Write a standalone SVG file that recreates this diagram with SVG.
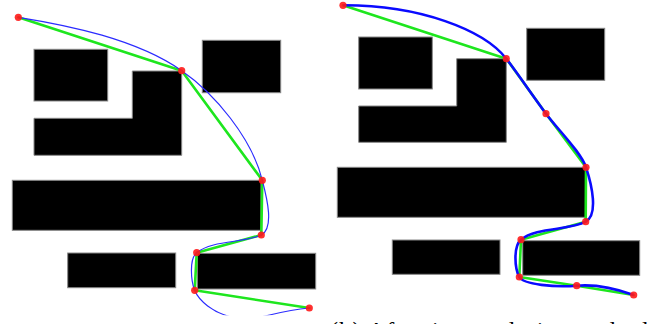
<svg xmlns="http://www.w3.org/2000/svg" width="654" height="324" viewBox="0 0 654 324">
<style>
.obs{fill:#000;stroke:#888;stroke-width:1}
.poly{fill:none;stroke:#1ee61e;stroke-width:2.6;stroke-linejoin:round;stroke-linecap:round}
.bl1{fill:none;stroke:#2b2bff;stroke-width:1.2}
.bl2{fill:none;stroke:#0a0aff;stroke-width:2.6}
.wp{fill:#ff1a1a;fill-opacity:0.9}
.cap{font-family:"Liberation Serif","Times New Roman",serif;font-size:24px;fill:#000}
</style>
<defs>
<clipPath id="clipL"><rect x="0" y="0" width="327" height="315.3"/></clipPath>
</defs>
<g id="panel-a">
<g id="obstacles-a">
<rect id="a-obs1" class="obs" x="34" y="49.3" width="73.7" height="51.7"/>
<path id="a-obs2" class="obs" d="M132.3,71 H181.7 V155.3 H34 V118.3 H132.3 Z"/>
<rect id="a-obs3" class="obs" x="202.3" y="40.3" width="78.4" height="52.4"/>
<rect id="a-obs4" class="obs" x="12.3" y="180.3" width="248.7" height="50"/>
<rect id="a-obs5" class="obs" x="67.7" y="253" width="108" height="34.7"/>
<rect id="a-obs6" class="obs" x="197.3" y="253.3" width="118.4" height="35.7"/>
</g>
<g id="connectors-a">
<polyline class="poly" points="18.3,17.3 181.7,70.7 262.3,180.3 261.3,235 196.7,252.7 194.7,290.3 309.3,308"/>
<path class="bl1" clip-path="url(#clipL)" d="M18.3,17.3 C68.3,25.3 136.7,39.2 181.7,70.7 C214,93 252,138 262.3,180.3 C267.5,200 274,228 261.3,235 C245,243 212,240 196.7,252.7 C189,259 191,281 194.7,290.3 C198.5,300 212,313 235,318 C255,322.3 270,312 309.3,308"/>
</g>
<g id="waypoints-a">
<circle class="wp" cx="18.3" cy="17.3" r="3.6"/>
<circle class="wp" cx="181.7" cy="70.7" r="3.6"/>
<circle class="wp" cx="262.3" cy="180.3" r="3.6"/>
<circle class="wp" cx="261.3" cy="235" r="3.6"/>
<circle class="wp" cx="196.7" cy="252.7" r="3.6"/>
<circle class="wp" cx="194.7" cy="290.3" r="3.6"/>
<circle class="wp" cx="309.3" cy="308" r="3.6"/>
</g>
</g>
<g id="panel-b">
<g id="obstacles-b">
<rect id="b-obs1" class="obs" x="358.7" y="37" width="73.6" height="52"/>
<path id="b-obs2" class="obs" d="M456.7,58.7 H506.3 V142.3 H358.7 V106 H456.7 Z"/>
<rect id="b-obs3" class="obs" x="526.7" y="28.3" width="78" height="52"/>
<rect id="b-obs4" class="obs" x="337.3" y="167.3" width="248.4" height="50"/>
<rect id="b-obs5" class="obs" x="392.3" y="240" width="107.7" height="34.3"/>
<rect id="b-obs6" class="obs" x="522.7" y="240.7" width="117" height="34.6"/>
</g>
<g id="connectors-b">
<polyline class="poly" points="343,5.3 506.3,58.7 546,113.7 586,167.3 585.7,221.7 521,239.7 519.3,277 576.7,285.7 633.7,295"/>
<path class="bl2" d="M343,5.3 C420,5 484,30 506.3,58.7 C517.3,72.9 534,97.7 546,113.7 C558,129.7 581,152.3 586,167.3 C592,185.3 598.4,214.7 585.7,221.7 C569.4,230.7 536.3,227 521,239.7 C513.3,246 514.5,268 519.3,277 C523.3,284.5 555,287.5 576.7,285.7 C596.7,284 620,290 633.7,295"/>
</g>
<g id="waypoints-b">
<circle class="wp" cx="343" cy="5.3" r="3.6"/>
<circle class="wp" cx="506.3" cy="58.7" r="3.6"/>
<circle class="wp" cx="546" cy="113.7" r="3.6"/>
<circle class="wp" cx="586" cy="167.3" r="3.6"/>
<circle class="wp" cx="585.7" cy="221.7" r="3.6"/>
<circle class="wp" cx="521" cy="239.7" r="3.6"/>
<circle class="wp" cx="519.3" cy="277" r="3.6"/>
<circle class="wp" cx="576.7" cy="285.7" r="3.6"/>
<circle class="wp" cx="633.7" cy="295" r="3.6"/>
</g>
</g>
<text id="caption-b" class="cap" x="330" y="338" textLength="318" lengthAdjust="spacing">(b) After interpolation and ad</text>
</svg>
